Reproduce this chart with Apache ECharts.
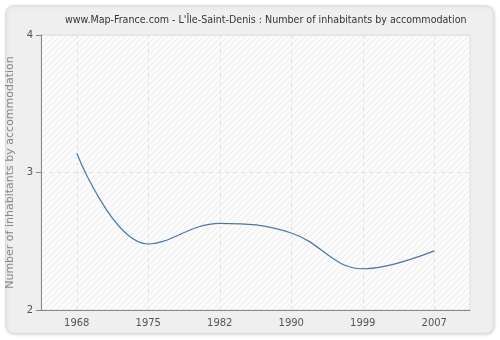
<!DOCTYPE html>
<html><head><meta charset="utf-8">
<script src="https://cdn.jsdelivr.net/npm/echarts@6/dist/echarts.min.js"></script>
<style>html,body{margin:0;padding:0;background:#fff}#c{width:500px;height:340px}</style>
</head><body><div id="c"></div>
<script>
var categories = ['1968','1975','1982','1990','1999','2007'];
var values = [3.14, 2.48, 2.63, 2.56, 2.30, 2.43];
var yTicks = [2, 3, 4];
var titleText = "www.Map-France.com - L'Île-Saint-Denis : Number of inhabitants by accommodation";
var yName = 'Number of inhabitants by accommodation';

var pc = document.createElement('canvas');
pc.width = 6; pc.height = 6;
var g = pc.getContext('2d');
g.fillStyle = '#fbfbfb'; g.fillRect(0,0,6,6);
g.strokeStyle = '#ebebeb'; g.lineWidth = 1;
g.beginPath(); g.moveTo(-1,7); g.lineTo(7,-1); g.stroke();
g.beginPath(); g.moveTo(-1,1); g.lineTo(1,-1); g.stroke();
g.beginPath(); g.moveTo(5,7); g.lineTo(7,5); g.stroke();

var chart = echarts.init(document.getElementById('c'), null, {renderer:'canvas'});
chart.setOption({
  animation: false,
  backgroundColor: '#ffffff',
  graphic: [{
    type: 'rect', z: -10, silent: true,
    shape: {x: 5.5, y: 5.5, width: 488, height: 328, r: 8},
    style: {fill: '#efefef', stroke: '#dedede', lineWidth: 1, shadowColor: 'rgba(0,0,0,0.12)', shadowBlur: 3, shadowOffsetX: 1, shadowOffsetY: 1}
  }],
  title: {
    text: titleText, left: 60, top: 10,
    textStyle: {fontFamily: '"DejaVu Sans Condensed", "Liberation Sans", sans-serif', fontSize: 10.6, fontWeight: 'normal', color: '#333'}
  },
  grid: {
    left: 41, right: 30, top: 35, bottom: 30,
    outerBoundsMode: 'none', containLabel: false,
    show: true, backgroundColor: {image: pc, repeat: 'repeat'},
    borderColor: '#dcdcdc', borderWidth: 1
  },
  xAxis: {
    type: 'category', data: categories, boundaryGap: true,
    axisLine: {lineStyle: {color: '#888'}},
    axisTick: {alignWithLabel: true, length: 5, lineStyle: {color: '#888'}},
    axisLabel: {color: '#555', fontFamily: 'DejaVu Sans', fontSize: 10, margin: 8},
    splitLine: {show: false}
  },
  yAxis: {
    type: 'value', min: yTicks[0], max: yTicks[yTicks.length-1], interval: 1,
    name: yName, nameLocation: 'middle', nameGap: 23,
    nameTextStyle: {color: '#888', fontFamily: 'DejaVu Sans', fontSize: 11},
    axisLine: {show: true, lineStyle: {color: '#888'}},
    axisTick: {show: true, length: 5, lineStyle: {color: '#888'}},
    axisLabel: {color: '#555', fontFamily: 'DejaVu Sans', fontSize: 10, margin: 8},
    splitLine: {show: true, lineStyle: {color: '#e2e2e2', type: [4,4]}}
  },
  series: [{
    type: 'line', data: values, smooth: 0.4, symbol: 'none',
    lineStyle: {color: '#4a78a8', width: 1.2},
    markLine: {
      silent: true, symbol: 'none', z: 1,
      label: {show: false},
      lineStyle: {color: '#e2e2e2', type: [4,4], width: 1},
      data: categories.map(function(c){ return {xAxis: c}; })
    }
  }]
});
</script></body></html>
